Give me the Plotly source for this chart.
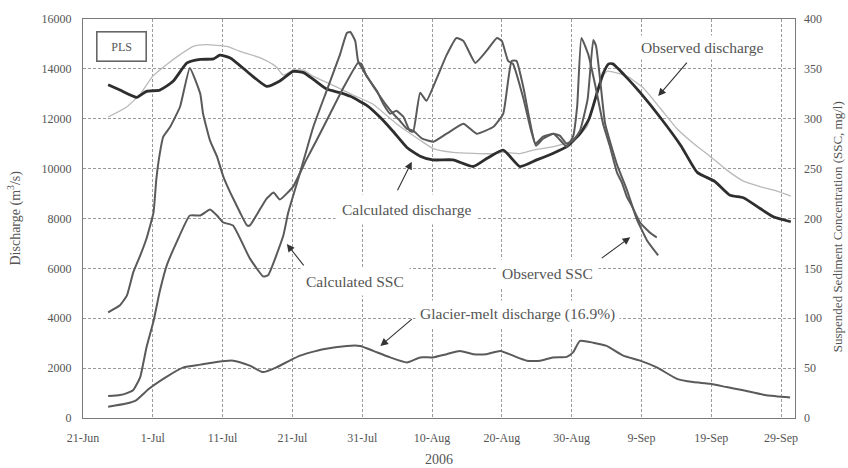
import pandas as pd
import plotly.graph_objects as go

# Days are counted from 21 June 2006
BASE = pd.Timestamp("2006-06-21")

# Observed discharge (m3/s)
obs_q_day = [3.6, 6.2, 8.2, 10.0, 12.0, 13.9, 15.8, 17.7, 20.6, 22.5, 25.4, 27.2, 27.8, 28.7,
             30.1, 31.6, 33.0, 35.4, 38.3, 41.5, 44.9, 48.3, 50.2, 53.0, 55.9, 58.8, 60.2,
             62.6, 64.5, 67.4, 69.8, 72.2, 73.6, 74.4, 75.1, 77.9, 80.2, 82.7, 85.1, 87.5,
             89.8, 92.2, 94.6, 97.0, 99.4, 101.4]
obs_q = [12070, 12460, 12990, 13710, 14180, 14570, 14900, 14970, 14900, 14700, 14440, 14180,
         14045, 13750, 13950, 13950, 13700, 13400, 13000, 12590, 11800, 11140, 10800, 10650,
         10610, 10600, 10650, 10600, 10740, 10880, 11090, 11680, 13120, 13660, 13910, 13710,
         13250, 12420, 11600, 11000, 10500, 9950, 9500, 9280, 9100, 8900]

# Calculated discharge (m3/s)
calc_q_day = [3.6, 5.3, 7.7, 9.1, 11.0, 12.9, 14.9, 16.8, 18.7, 19.6, 21.1, 23.9, 26.3, 28.2,
              30.1, 31.6, 33.0, 34.9, 36.8, 38.3, 40.7, 42.6, 44.4, 46.4, 48.3, 50.1, 53.0,
              55.9, 57.9, 60.2, 62.6, 65.0, 67.3, 69.3, 71.2, 72.5, 73.5, 74.5, 75.3, 75.9,
              77.9, 79.8, 82.7, 85.7, 88.0, 90.5, 92.7, 94.6, 97.0, 98.9, 101.4]
calc_q = [13360, 13150, 12860, 13100, 13150, 13500, 14240, 14380, 14400, 14550, 14440, 13800,
          13300, 13515, 13900, 13850, 13580, 13190, 13050, 12900, 12530, 12050, 11500, 10850,
          10500, 10350, 10350, 10085, 10415, 10744, 10085, 10350, 10610, 10880, 11400, 12000,
          12900, 13800, 14200, 14200, 13650, 13055, 12050, 10900, 9850, 9490, 8930, 8830, 8400,
          8070, 7870]

# Glacier-melt discharge (m3/s)
glacier_day = [3.6, 6.2, 7.6, 9.5, 11.9, 14.4, 16.8, 18.7, 21.5, 23.9, 25.8, 27.7, 29.6, 31.1,
               32.6, 34.4, 37.8, 39.7, 41.6, 44.0, 46.4, 48.3, 50.1, 52.1, 54.0, 55.9, 57.8,
               59.8, 61.6, 63.6, 65.5, 67.3, 69.3, 70.2, 71.2, 73.1, 75.0, 77.4, 79.8, 82.2,
               85.1, 87.4, 89.8, 92.2, 94.6, 97.9, 101.3]
glacier = [450, 580, 710, 1180, 1640, 2030, 2140, 2230, 2300, 2100, 1840, 2030, 2300, 2500,
           2630, 2760, 2890, 2890, 2690, 2430, 2230, 2430, 2430, 2560, 2690, 2560, 2560, 2690,
           2500, 2300, 2300, 2430, 2450, 2630, 3090, 3020, 2890, 2500, 2300, 2030, 1570, 1440,
           1370, 1240, 1110, 910, 820]

# Observed SSC (mg/l)
obs_ssc_day = [3.6, 5.3, 6.3, 7.2, 8.2, 9.1, 10.1, 10.5, 11.0, 11.5, 12.5, 13.9, 15.3, 16.8,
               17.2, 18.2, 19.2, 20.1, 21.1, 22.5, 23.5, 23.9, 25.0, 26.3, 27.3, 28.2, 30.1,
               32.0, 33.5, 35.4, 37.3, 39.4, 39.9, 40.6, 42.1, 43.0, 44.0, 44.9, 45.9, 46.8,
               47.3, 48.3, 49.2, 50.7, 52.1, 53.5, 54.5, 56.2, 57.8, 59.3, 60.0, 60.9, 61.6,
               63.1, 64.2, 64.9, 65.9, 67.4, 68.3, 69.3, 70.2, 70.8, 71.4, 72.4, 73.4, 74.5,
               75.5, 76.5, 77.2, 77.9, 78.6, 79.8, 81.2, 82.2]
obs_ssc = [106, 113, 123, 146, 163, 180, 206, 239, 265, 282, 292, 312, 351, 325, 305, 278,
           262, 242, 226, 206, 193, 193, 205, 220, 226, 219, 232, 259, 279, 305, 331, 356, 355,
           343, 328, 315, 305, 308, 302, 288, 287, 326, 318, 341, 364, 381, 378, 356, 368, 381,
           378, 358, 355, 320, 288, 273, 280, 285, 279, 272, 282, 313, 381, 364, 333, 295, 272,
           246, 236, 222, 213, 196, 186, 181]

# Calculated SSC (mg/l)
calc_ssc_day = [3.6, 5.3, 6.3, 7.2, 8.2, 9.1, 10.1, 11.0, 12.0, 13.4, 15.3, 16.8, 18.2, 19.2,
                20.1, 21.5, 23.9, 25.8, 26.5, 28.7, 29.4, 31.1, 33.0, 34.9, 36.8, 37.8, 38.3,
                39.0, 39.4, 40.2, 41.1, 42.3, 43.3, 44.7, 45.4, 46.4, 47.3, 48.6, 50.2, 52.1,
                54.5, 56.4, 58.8, 60.2, 60.9, 61.4, 62.1, 63.1, 64.0, 64.8, 65.9, 67.4, 68.3,
                69.3, 70.2, 71.2, 72.3, 73.1, 73.5, 74.1, 74.8, 76.5, 77.9, 79.3, 80.8, 82.4]
calc_ssc = [22, 23, 25, 28, 41, 71, 97, 127, 153, 176, 203, 203, 209, 203, 196, 193, 160, 142,
            143, 183, 206, 246, 292, 328, 364, 386, 387, 378, 358, 348, 338, 325, 315, 303, 298,
            290, 288, 280, 277, 285, 295, 285, 292, 305, 338, 358, 358, 331, 298, 275, 282, 285,
            283, 275, 278, 288, 320, 379, 373, 338, 295, 254, 229, 200, 178, 163]

# Axis ticks
tick_days = [0, 10, 20, 30, 40, 50, 60, 70, 80, 90, 100]
tick_text = ["21-Jun", "1-Jul", "11-Jul", "21-Jul", "31-Jul", "10-Aug", "20-Aug", "30-Aug",
             "9-Sep", "19-Sep", "29-Sep"]


def to_dates(days):
    return BASE + pd.to_timedelta(days, unit="D")


def day(d):
    return (BASE + pd.Timedelta(days=d)).strftime("%Y-%m-%d %H:%M")


SERIF = "Liberation Serif, Times New Roman, serif"
TXT = "#555555"
LINE = "#5a5a5a"

fig = go.Figure()
fig.add_trace(go.Scatter(x=to_dates(obs_q_day), y=obs_q, name="Observed discharge",
                         mode="lines", line=dict(color="#b9b9b9", width=1.3, shape="spline",
                                                 smoothing=0.5)))
fig.add_trace(go.Scatter(x=to_dates(glacier_day), y=glacier, name="Glacier-melt discharge",
                         mode="lines", line=dict(color=LINE, width=2, shape="spline",
                                                 smoothing=0.5)))
fig.add_trace(go.Scatter(x=to_dates(calc_ssc_day), y=calc_ssc, name="Calculated SSC",
                         yaxis="y2", mode="lines",
                         line=dict(color=LINE, width=2, shape="spline", smoothing=0.4)))
fig.add_trace(go.Scatter(x=to_dates(obs_ssc_day), y=obs_ssc, name="Observed SSC",
                         yaxis="y2", mode="lines",
                         line=dict(color=LINE, width=2, shape="spline", smoothing=0.4)))
fig.add_trace(go.Scatter(x=to_dates(calc_q_day), y=calc_q, name="Calculated discharge",
                         mode="lines", line=dict(color="#2e2e2e", width=2.8, shape="spline",
                                                 smoothing=0.5)))

grid = dict(showgrid=True, gridcolor="#9a9a9a", gridwidth=1, griddash="3px,2px",
            showline=True, linecolor="#7a7a7a", linewidth=1.2, zeroline=False,
            tickfont=dict(family=SERIF, size=12, color=TXT), ticks="")

fig.update_layout(
    width=848, height=468,
    margin=dict(l=83, r=53, t=14, b=50),
    paper_bgcolor="white", plot_bgcolor="white",
    showlegend=False,
    xaxis=dict(type="date", range=[day(0), day(102)],
               tickvals=to_dates(tick_days), ticktext=tick_text,
               mirror=True, ticklabelstandoff=8, **grid),
    yaxis=dict(range=[0, 16000], dtick=2000, tickformat="d", mirror=True,
               ticklabelstandoff=8, **grid),
    yaxis2=dict(range=[0, 400], dtick=50, overlaying="y", side="right", showgrid=False,
                showline=False, zeroline=False, ticks="", ticklabelstandoff=8,
                tickfont=dict(family=SERIF, size=12, color=TXT)),
)

lab_font = dict(family=SERIF, size=15.5, color=TXT)

# Curve labels on white boxes
labels = [
    ("Observed discharge", 88.8, 14860, 3),
    ("Calculated discharge", 46.4, 8360, 6),
    ("Calculated SSC", 39.0, 5460, 5),
    ("Observed SSC", 66.6, 5780, 5),
    ("Glacier-melt discharge (16.9%)", 62.3, 4160, 4),
]
for text, d, v, pad in labels:
    fig.add_annotation(x=day(d), y=v, xref="x", yref="y", text=text, showarrow=False,
                       font=lab_font, bgcolor="white", borderpad=pad)

# Arrows pointing at the curves
arrows = [
    (82.4, 12910, 30, -35),
    (47.1, 10280, -15, 30),
    (29.2, 6980, 18, 23),
    (78.4, 7250, -30, 22),
    (42.6, 2890, 33, -28),
]
for d, v, ax, ay in arrows:
    fig.add_annotation(x=day(d), y=v, xref="x", yref="y", text="", showarrow=True,
                       ax=ax, ay=ay, arrowhead=2, arrowsize=1.4, arrowwidth=1.1,
                       arrowcolor="#333333")

# Station box
fig.add_annotation(x=day(5.5), y=14900, xref="x", yref="y", text="PLS", showarrow=False,
                   font=dict(family=SERIF, size=12, color=TXT), bgcolor="white",
                   bordercolor="#666666", borderwidth=1.6, width=44, height=24, borderpad=2)

# Axis titles
fig.add_annotation(x=-0.0955, y=0.5, xref="paper", yref="paper", xanchor="center",
                   yanchor="middle", text="Discharge (m<sup>3</sup>/s)",
                   textangle=-90, showarrow=False, font=dict(family=SERIF, size=14, color=TXT))
fig.add_annotation(x=1.060, y=0.48, xref="paper", yref="paper", xanchor="center",
                   yanchor="middle", text="Suspended Sediment Concentration (SSC, mg/l)",
                   textangle=-90, showarrow=False, font=dict(family=SERIF, size=13, color=TXT))
fig.add_annotation(x=0.5, y=-0.104, xref="paper", yref="paper", xanchor="center",
                   yanchor="middle", text="2006",
                   showarrow=False, font=dict(family=SERIF, size=14, color=TXT))

fig.write_html("out.html")
